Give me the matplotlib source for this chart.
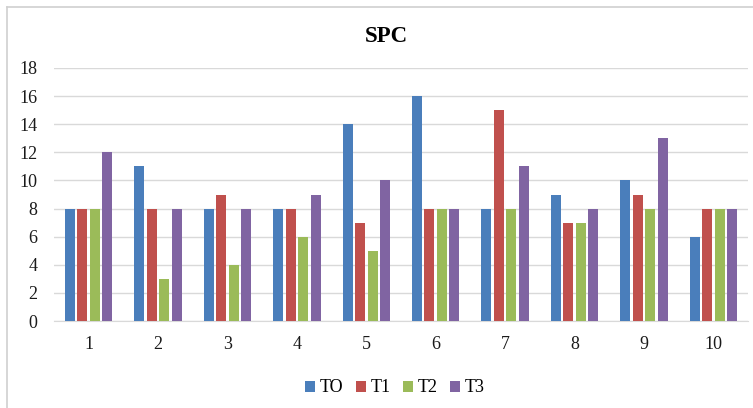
import numpy as np
import matplotlib.pyplot as plt
from matplotlib.lines import Line2D

plt.rcParams['font.family'] = ['Liberation Serif', 'DejaVu Serif']

groups = ['1', '2', '3', '4', '5', '6', '7', '8', '9', '10']
series = ['TO', 'T1', 'T2', 'T3']
t0 = [8, 11, 8, 8, 14, 16, 8, 9, 10, 6]
t1 = [8, 8, 9, 8, 7, 8, 15, 7, 9, 8]
t2 = [8, 3, 4, 6, 5, 8, 8, 7, 8, 8]
t3 = [12, 8, 8, 9, 10, 8, 11, 8, 13, 8]
colors = ['#4A7EBB', '#C0504D', '#9BBB59', '#8064A2']

W, H = 753, 408
fig = plt.figure(figsize=(W / 100, H / 100), dpi=100)
ax = fig.add_axes([54 / W, 1 - 321 / H, 694 / W, 253 / H])

x = np.arange(len(groups))
w = 0.144
step = 0.179
for i, (vals, name) in enumerate(zip([t0, t1, t2, t3], series)):
    ax.bar(x + (i - 1.5) * step, vals, w, color=colors[i], label=name, zorder=3)

ax.set_xlim(-0.5, len(groups) - 0.5)
ax.set_ylim(0, 18)
ax.set_yticks(range(0, 19, 2))
ax.set_xticks(x)
ax.set_xticklabels(groups)
ax.tick_params(axis='both', length=0, labelsize=13, colors='#1a1a1a')
ax.tick_params(axis='x', pad=11)
ax.tick_params(axis='y', pad=12)
ax.grid(axis='y', color='#D9D9D9', linewidth=1, zorder=0)
for s in ['top', 'right', 'left']:
    ax.spines[s].set_visible(False)
ax.spines['bottom'].set_color('#D9D9D9')

fig.text(386 / W, 1 - 36 / H, 'SPC', ha='center', va='center', fontsize=16.5, fontweight='bold')
fig.legend(loc='center', bbox_to_anchor=(395 / W, 1 - 388 / H), ncol=4, frameon=False,
           fontsize=13, handlelength=0.55, handleheight=0.55, handletextpad=0.25,
           columnspacing=0.7)

# chart area border (open on right and bottom edges of the crop)
fig.add_artist(Line2D([7 / W, 7 / W], [0, 1 - 7 / H], color='#D0D0D0', linewidth=1.2))
fig.add_artist(Line2D([7 / W, 1], [1 - 7 / H, 1 - 7 / H], color='#D0D0D0', linewidth=1.2))

fig.savefig('out.png', dpi=100)
